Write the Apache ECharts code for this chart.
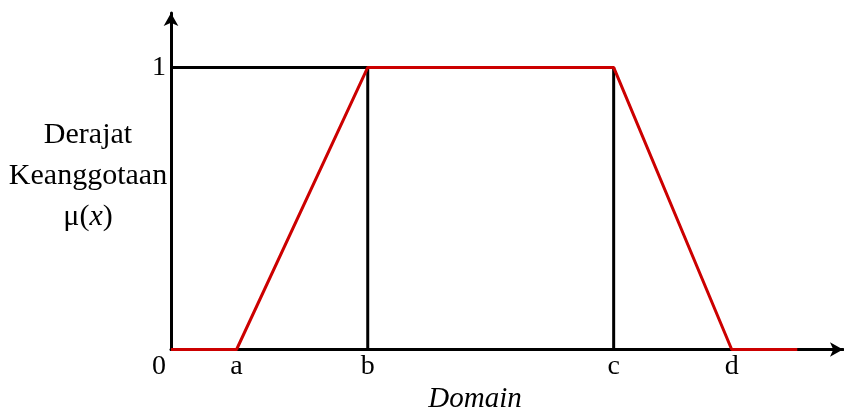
<!DOCTYPE html>
<html>
<head>
<meta charset="utf-8">
<script src="https://cdn.jsdelivr.net/npm/echarts@6/dist/echarts.min.js"></script>
<style>html,body{margin:0;padding:0;background:#fff}#c{width:844px;height:408px}</style>
</head>
<body>
<div id="c"></div>
<script>
// Domain positions of the break points (0, a, b, c, d) and the tail end
const xTickValues = [0, 1, 3, 6.75, 8.55];
const xTickLabels = ['0', 'a', 'b', 'c', 'd'];
const yTickValues = [1];
const yTickLabels = ['1'];
// Trapezoidal membership function
const membership = [[0, 0], [1, 0], [3, 1], [6.75, 1], [8.55, 0], [9.55, 0]];
// Black guide lines
const guideLeft = [[0, 1], [3, 1], [3, 0]];
const guideRight = [[6.75, 0], [6.75, 1]];

const FONT = 'Liberation Serif';
const chart = echarts.init(document.getElementById('c'));
chart.setOption({
  animation: false,
  backgroundColor: '#fff',
  grid: { left: 171, right: 1, top: 13, bottom: 58.5, containLabel: false, outerBoundsMode: 'none' },
  xAxis: {
    type: 'value', min: 0, max: 10.247,
    name: 'Domain', nameLocation: 'middle', nameGap: 35, nameMoveOverlap: false,
    nameTextStyle: { fontFamily: FONT, fontSize: 29, fontStyle: 'italic', color: '#000', padding: [0, 64, 0, 0] },
    axisLine: { show: true, symbol: ['none', 'arrow'], symbolSize: [11, 13], lineStyle: { color: '#000', width: 3 } },
    axisTick: { show: false },
    splitLine: { show: false },
    axisLabel: {
      customValues: xTickValues, margin: 3,
      fontFamily: FONT, fontSize: 28, color: '#000',
      formatter: v => { const i = xTickValues.indexOf(v); const t = i >= 0 ? xTickLabels[i] : ''; return i === 0 ? '{z|' + t + '}' : t; },
      rich: { z: { fontFamily: FONT, fontSize: 28, color: '#000', padding: [0, 24, 0, 0] } }
    }
  },
  yAxis: {
    type: 'value', min: 0, max: 1.193,
    name: 'Derajat\nKeanggotaan\n{m|μ(}{i|x}{m|)}', nameLocation: 'middle', nameRotate: 0, nameGap: 83, nameMoveOverlap: false,
    nameTextStyle: {
      fontFamily: FONT, fontSize: 30, color: '#000', lineHeight: 41, align: 'center', verticalAlign: 'middle',
      padding: [0, 0, 11, 0],
      rich: {
        m: { fontFamily: FONT, fontSize: 30, color: '#000', lineHeight: 41 },
        i: { fontFamily: FONT, fontSize: 30, fontStyle: 'italic', color: '#000', lineHeight: 41 }
      }
    },
    axisLine: { show: true, symbol: ['none', 'arrow'], symbolSize: [11, 13], lineStyle: { color: '#000', width: 3 } },
    axisTick: { show: false },
    splitLine: { show: false },
    axisLabel: {
      customValues: yTickValues, margin: 5,
      fontFamily: FONT, fontSize: 28, color: '#000', padding: [6, 0, 0, 0],
      formatter: v => { const i = yTickValues.indexOf(v); return i >= 0 ? yTickLabels[i] : ''; }
    }
  },
  series: [
    { type: 'line', data: guideLeft, symbol: 'none', lineStyle: { color: '#000', width: 3 }, z: 2 },
    { type: 'line', data: guideRight, symbol: 'none', lineStyle: { color: '#000', width: 3 }, z: 2 },
    { type: 'line', data: membership, symbol: 'none', lineStyle: { color: '#cc0000', width: 3 }, z: 3 }
  ]
});
</script>
</body>
</html>
